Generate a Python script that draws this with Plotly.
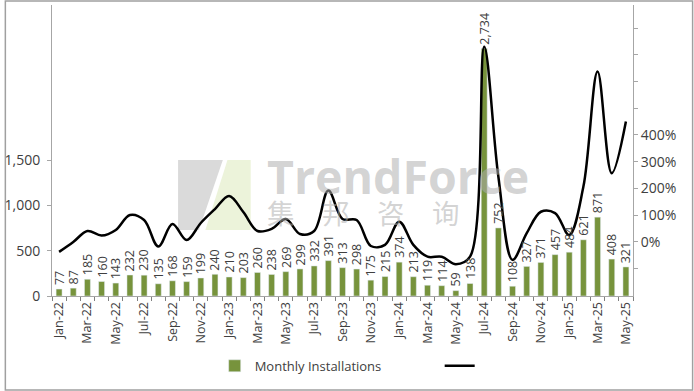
import plotly.graph_objects as go

months = ["Jan-22","Feb-22","Mar-22","Apr-22","May-22","Jun-22","Jul-22","Aug-22","Sep-22","Oct-22","Nov-22","Dec-22",
          "Jan-23","Feb-23","Mar-23","Apr-23","May-23","Jun-23","Jul-23","Aug-23","Sep-23","Oct-23","Nov-23","Dec-23",
          "Jan-24","Feb-24","Mar-24","Apr-24","May-24","Jun-24","Jul-24","Aug-24","Sep-24","Oct-24","Nov-24","Dec-24",
          "Jan-25","Feb-25","Mar-25","Apr-25","May-25"]
installations = [77,87,185,160,143,232,230,135,168,159,199,240,
                 210,203,260,238,269,299,332,391,313,298,175,215,
                 374,213,119,114,59,138,2734,752,108,327,371,457,
                 484,621,871,408,321]
growth_pct = [-37,0,41,24,45,101,82,-17,67,7,71,123,
              172,112,41,49,86,30,41,192,86,82,-15,-11,
              76,-11,-55,-55,-83,-55,730,244,-67,33,113,108,
              26,207,637,257,450]
left_ticks = [0, 500, 1000, 1500]
right_ticks = [-100, 0, 100, 200, 300, 400, 500, 600, 700, 800]
right_labelled = [0, 100, 200, 300, 400]

idx = list(range(len(months)))
font_family = "Open Sans, Noto Sans, sans-serif"

fig = go.Figure()

# watermark logo (behind the data)
fig.add_shape(type="path", xref="paper", yref="paper", layer="below",
              path="M 0.217,0.467 L 0.294,0.467 L 0.253,0.227 L 0.217,0.227 Z",
              fillcolor="rgb(218,218,218)", line_width=0)
fig.add_shape(type="path", xref="paper", yref="paper", layer="below",
              path="M 0.302,0.467 L 0.342,0.467 L 0.342,0.227 L 0.264,0.227 Z",
              fillcolor="rgb(236,243,218)", line_width=0)

fig.add_trace(go.Bar(
    x=idx, y=installations, name="Monthly Installations",
    marker_color="#77933C", width=0.42,
))
fig.add_trace(go.Scatter(
    x=idx, y=growth_pct, name=" ", yaxis="y2", mode="lines",
    line=dict(color="black", width=2.5, shape="spline", smoothing=1.0),
))

# watermark text (one two-line block)
fig.add_annotation(xref="paper", yref="paper", x=0.366, y=0.53, xanchor="left", yanchor="top",
                   align="left", showarrow=False,
                   text=("<span style='font-size:46.5px'><b>TrendForce</b></span><br>"
                         "<span style='font-size:27.5px;font-family:Noto Sans CJK SC'>集　邦　咨　询</span>"),
                   font=dict(size=23, color="rgba(175,175,175,0.55)", family=font_family))

# value labels above bars
for i, v in zip(idx, installations):
    fig.add_annotation(x=i, y=v, xref="x", yref="y", text=f"{v:,}", showarrow=False,
                       textangle=-90, xanchor="center", yanchor="bottom", yshift=2,
                       font=dict(size=12.5, color="#404040", family=font_family))

# outer border
fig.add_shape(type="rect", xref="paper", yref="paper",
              x0=-0.0803, x1=1.1026, y0=-0.323, y1=1.0137,
              line=dict(color="#a0a0a0", width=1.5), fillcolor="rgba(0,0,0,0)")

fig.update_layout(
    width=694, height=391,
    margin=dict(l=48, r=61, t=5, b=95),
    paper_bgcolor="white", plot_bgcolor="rgba(0,0,0,0)",
    font=dict(family=font_family, color="#404040"),
    xaxis=dict(
        range=[-0.5, len(months) - 0.5],
        tickmode="array", tickvals=idx[::2], ticktext=months[::2],
        tickangle=-90, tickfont=dict(size=12.5, color="#404040"),
        ticks="", showline=True, linecolor="#a6a6a6", linewidth=1,
        showgrid=False, zeroline=False,
        minor=dict(ticks="outside", dtick=1, tick0=0.5, ticklen=4, tickcolor="#808080", showgrid=False),
    ),
    yaxis=dict(
        range=[0, 3215], tickmode="array", tickvals=left_ticks,
        ticktext=[f"{t:,}" for t in left_ticks],
        tickfont=dict(size=14, color="#404040"), ticklabelstandoff=4,
        showline=True, linecolor="#a6a6a6", ticks="outside", ticklen=4, tickcolor="#a6a6a6",
        showgrid=False, zeroline=False,
    ),
    yaxis2=dict(
        overlaying="y", side="right",
        range=[-202, 886], tickmode="array", tickvals=right_ticks,
        ticktext=[f"{t}%" if t in right_labelled else "" for t in right_ticks],
        tickfont=dict(size=14, color="#404040"), ticklabelstandoff=0,
        showline=True, linecolor="#a6a6a6", ticks="outside", ticklen=4, tickcolor="#a6a6a6",
        showgrid=False, zeroline=False,
    ),
    legend=dict(orientation="h", x=0.28, xanchor="left", y=-0.24, yanchor="middle",
                font=dict(size=13, color="#404040"), entrywidth=180),
    showlegend=True,
)

fig.write_html("out.html", config={"displayModeBar": False},
               post_script="document.body.style.margin='0px';")
